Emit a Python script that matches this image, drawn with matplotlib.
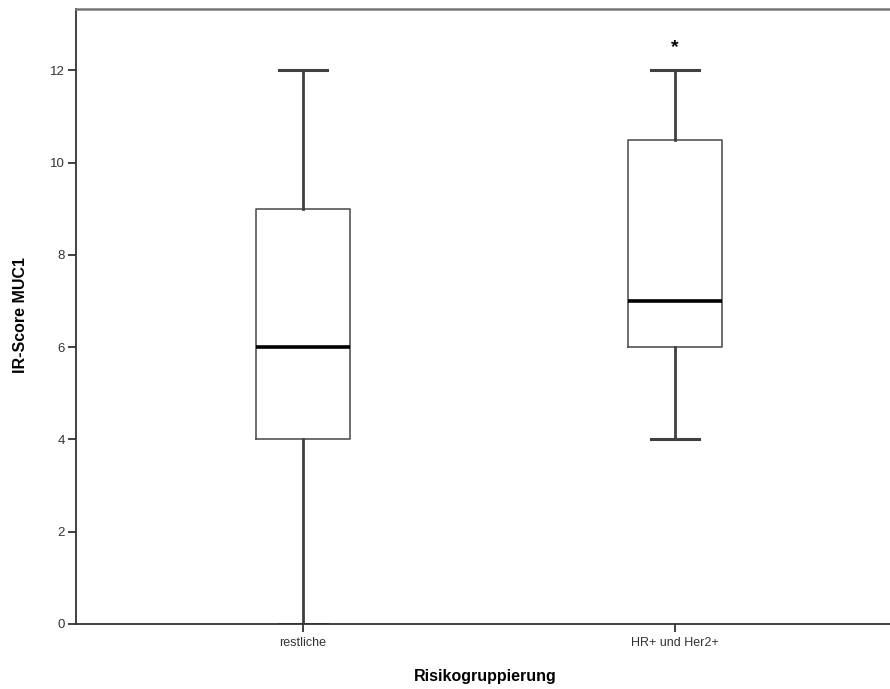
import matplotlib
matplotlib.use("Agg")
import matplotlib.pyplot as plt

plt.rcParams['font.family'] = ['Liberation Sans', 'DejaVu Sans']

# Boxplot summary per risk group (IR-Score MUC1)
groups = ['restliche', 'HR+ und Her2+']
whisker_low = [0, 4]
q1 = [4, 6]
median = [6, 7]
q3 = [9, 10.5]
whisker_high = [12, 12]
extremes = [[], [12.5]]

stats = []
for i, g in enumerate(groups):
    stats.append(dict(label=g, whislo=whisker_low[i], q1=q1[i], med=median[i],
                      q3=q3[i], whishi=whisker_high[i], fliers=[]))

fig = plt.figure(figsize=(8.9, 6.89), dpi=100)
ax = fig.add_axes([76 / 890, 65 / 689, 826 / 890, 615 / 689])

pos = [1, 2]
ax.bxp(stats, positions=pos, widths=0.253, showfliers=False,
       boxprops=dict(color='#555555', linewidth=1.2),
       medianprops=dict(color='black', linewidth=2.6),
       whiskerprops=dict(color='#404040', linewidth=2),
       capprops=dict(color='#404040', linewidth=2.2),
       capwidths=0.129)

# extreme values drawn as asterisks, SPSS style
for p, ex in zip(pos, extremes):
    for v in ex:
        ax.text(p, v, '*', ha='center', va='center', fontsize=14,
                fontweight='bold', color='black')

ax.set_xlim(1 - 227 / 372, 1 + (902 - 303) / 372)
ax.set_ylim(0, 13.33)
ax.set_yticks([0, 2, 4, 6, 8, 10, 12])
ax.set_xticks(pos)
ax.set_xticklabels(groups)

ax.spines['right'].set_visible(False)
for s in ['left', 'bottom', 'top']:
    ax.spines[s].set_color('#333333')
    ax.spines[s].set_linewidth(1.3)
ax.spines['top'].set_color('#777777')
ax.spines['top'].set_linewidth(1.8)

ax.tick_params(axis='y', direction='out', length=6, width=1.3, color='#333333',
               labelsize=9.5, labelcolor='#333333', pad=2)
ax.tick_params(axis='x', direction='out', length=6, width=1.3, color='#333333',
               labelsize=9, labelcolor='#333333', pad=3)

ax.set_ylabel('IR-Score MUC1', fontsize=11.5, fontweight='bold')
ax.yaxis.set_label_coords(-(76 - 20) / 826, (624 - 315) / 615)
ax.set_xlabel('Risikogruppierung', fontsize=11.5, fontweight='bold')
ax.xaxis.set_label_coords((485 - 76) / 826, -(676 - 624) / 615)
ax.xaxis.label.set_va('center')
ax.yaxis.label.set_va('center')

fig.savefig('out.png', dpi=100)
